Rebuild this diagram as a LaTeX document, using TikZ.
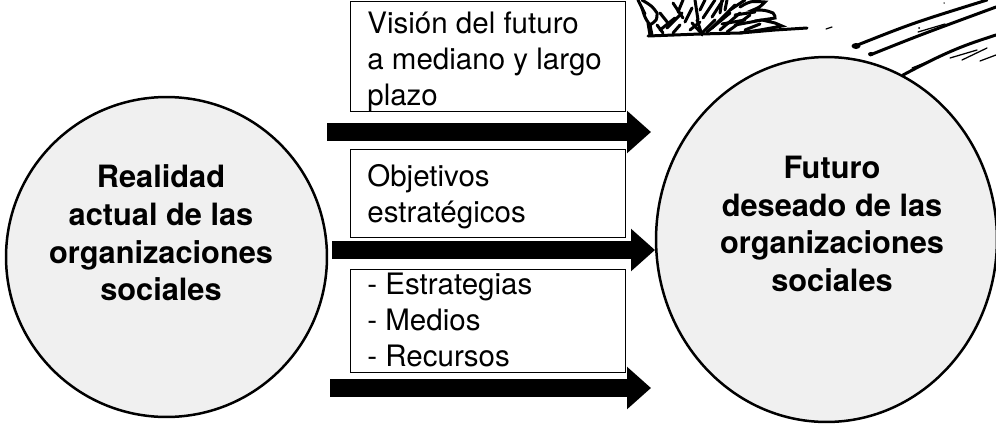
\documentclass[tikz,border=0pt]{standalone}
\usepackage{fontspec}
\setmainfont{TeX Gyre Heros}
\usetikzlibrary{shapes, arrows.meta, positioning}

\tikzset{
  circlebox/.style={ellipse, draw, line width=0.05cm, fill=black!6, inner sep=0pt},
  circletext/.style={align=center, inner sep=0pt, font=\fontsize{17.5}{21.5}\selectfont\bfseries},
  framebox/.style={rectangle, draw, line width=0.025cm, fill=white, inner sep=0pt, minimum width=5.5cm, anchor=north west},
  boxtext/.style={align=left, inner sep=0pt, anchor=north west, font=\fontsize{16.8}{20.3}\selectfont},
  bigarrow/.style={line width=0.37cm, -{Triangle[length=0.48cm,width=0.82cm]}},
  sketch/.style={line width=0.06cm, line cap=round},
  thinsketch/.style={line width=0.025cm, line cap=round}
}

\begin{document}
\begin{tikzpicture}[x=0.02cm, y=-0.02cm]
        \useasboundingbox (0,0) rectangle (996,423);

        % pen sketch in the corner: leaves of the bush
        \draw[sketch] (648,36) -- (700,34) -- (740,33) -- (775,30) -- (807,28);
        \draw[sketch] (642,8) .. controls (645,18) .. (650,25) .. controls (657,20) .. (657,13) .. controls (652,6) .. (642,0);
        \draw[sketch] (740,7) .. controls (750,1) .. (765,2) .. controls (760,7) .. (753,10) .. controls (765,10) .. (773,13) .. controls (775,16) .. (775,18) -- (762,20) -- (775,23) -- (782,26) -- (760,30) -- (740,33);
        \foreach \ax/\ay/\bx/\by in {650/35/648/23, 663/33/657/25, 667/28/682/13, 660/13/668/23, 673/3/683/18,
            683/0/678/12, 702/35/697/20, 695/0/698/20, 703/18/715/0, 712/17/723/0, 702/33/715/20, 692/23/702/34,
            680/25/673/33, 707/32/730/13, 720/30/740/13, 727/32/750/15, 725/10/727/0, 720/13/722/0, 730/10/745/0,
            735/25/762/20, 690/30/700/22, 745/30/760/24, 660/30/675/18, 685/22/692/8, 712/28/735/5, 735/15/755/12,
            638/0/645/14, 650/25/652/35, 722/24/745/20, 700/10/705/0}
          \draw[sketch] (\ax,\ay) -- (\bx,\by);

        % pen sketch in the corner: long strokes
        \draw[sketch] (855,46) .. controls (913,23) .. (987,0);
        \draw[sketch] (870,55) .. controls (920,35) .. (996,7);
        \draw[sketch] (903,75) .. controls (950,50) and (965,45) .. (996,35);
        \fill (856,46) ellipse (0.09cm and 0.06cm);
        \fill (871,54) ellipse (0.06cm and 0.04cm);
        \draw[thinsketch] (950,58) -- (977,50);
        \draw[thinsketch] (962,60) -- (987,48);
        \draw[thinsketch] (980,61) -- (996,55);
        \draw[thinsketch] (918,32) -- (945,24);
        \draw[thinsketch] (912,68) -- (932,60);
        \draw[thinsketch] (826,29) -- (832,27);
        \fill (919,28) circle (0.02cm);
        \fill (944,3) circle (0.015cm);

        % the two states
        \node[circlebox, minimum width=6.42cm, minimum height=6.4cm] (real) at (166.5,257) {};
        \node[circlebox, minimum width=6.82cm, minimum height=7.3cm] (fut) at (826.5,239.5) {};
        \node[circletext] (realtxt) at (161,233) {Realidad\\actual de las\\organizaciones\\sociales};
        \node[circletext] (futtxt) at (832,224) {Futuro\\deseado de las\\organizaciones\\sociales};

        % the three boxes
        \node[framebox, minimum height=2.2cm] (vision) at (350,1) {};
        \node[framebox, minimum height=1.76cm] (obj) at (350,149) {};
        \node[framebox, minimum height=2.06cm] (medios) at (350,269) {};
        \node[boxtext] (visiontxt) at (367,12) {Visi\'on del futuro\\a mediano y largo\\plazo};
        \node[boxtext] (objtxt) at (367,164) {Objetivos\\estrat\'egicos};
        \node[boxtext] (mediostxt) at (367,273) {- Estrategias\\- Medios\\- Recursos};

        % arrows between the states
        \coordinate (a1) at (327,132);
        \coordinate (b1) at (651,132);
        \coordinate (a2) at (332,250);
        \coordinate (b2) at (655,250);
        \coordinate (a3) at (330,388);
        \coordinate (b3) at (651,388);
        \draw[bigarrow] (a1) -- (b1);
        \draw[bigarrow] (a2) -- (b2);
        \draw[bigarrow] (a3) -- (b3);
      \end{tikzpicture}
\end{document}
